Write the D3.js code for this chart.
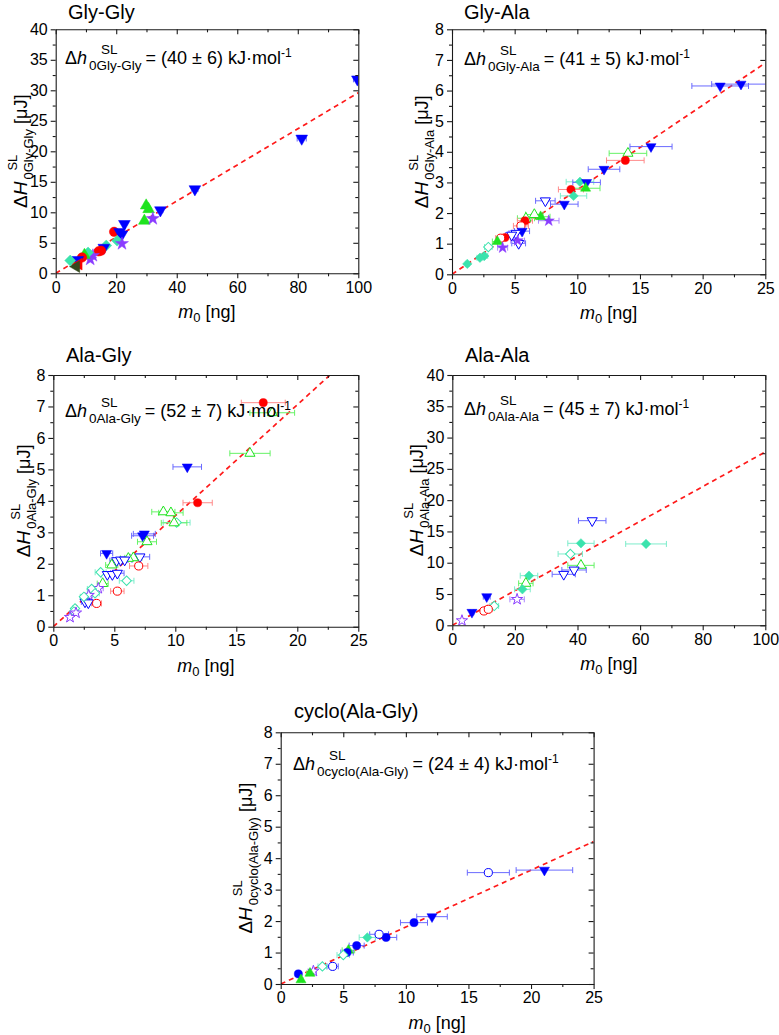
<!DOCTYPE html>
<html><head><meta charset="utf-8">
<script src="https://cdn.jsdelivr.net/npm/d3@7"></script>
<style>
body{margin:0;background:#fff}
svg{display:block}
text{font-family:"Liberation Sans",Arial,Helvetica,sans-serif;fill:#000}
</style>
</head><body>
<svg id="chart" width="779" height="1035"></svg>
<script>
// ---------------- DATA ----------------
const panelTitles = ["Gly-Gly", "Gly-Ala", "Ala-Gly", "Ala-Ala", "cyclo(Ala-Gly)"];
const panelSubs   = ["0Gly-Gly", "0Gly-Ala", "0Ala-Gly", "0Ala-Ala", "0cyclo(Ala-Gly)"];
const dhValues    = ["(40 \u00b1 6)", "(41 \u00b1 5)", "(52 \u00b1 7)", "(45 \u00b1 7)", "(24 \u00b1 4)"];
const fitSlopes   = [0.296, 0.276, 0.3527, 0.277, 0.181];
const xMaxes      = [100, 25, 25, 100, 25];
const yMaxes      = [40, 8, 8, 40, 8];
const xMajors     = [20, 5, 5, 20, 5];
const yMajors     = [5, 1, 1, 5, 1];

// Gly-Gly
const ggKind = ["blue-down-f","blue-down-f","blue-down-f","blue-down-f","green-up-f","green-up-f","green-up-f","purple-star-f","blue-down-f","red-circle-f","blue-down-f","blue-down-f","cyan-diamond-f","purple-star-f","cyan-diamond-f","blue-down-f","red-circle-f","red-circle-f","purple-star-f","purple-star-f","cyan-diamond-f","green-up-f","red-circle-f","blue-down-f","red-left-f","dark-left-f","cyan-diamond-f"];
const ggX = [99.7,81.3,46.0,34.6,29.9,30.7,29.3,32.1,22.7,19.3,21.1,21.9,20.3,21.9,16.7,15.9,15.0,14.2,12.3,11.4,10.7,9.5,8.7,7.3,7.6,6.8,4.8];
const ggY = [31.8,22.1,13.8,10.35,11.1,10.5,8.6,8.95,8.1,6.8,6.8,6.4,5.35,4.85,4.55,4.2,3.7,3.6,2.9,2.3,3.4,3.0,2.6,2.2,1.5,1.1,2.1];
const ggE = [1.3,1.5,1.0,0.8,0.6,0.6,0.6,0.7,0.5,0.4,0.5,0.5,0.4,0.5,0.4,0.4,0.3,0.3,0.3,0.3,0.3,0.2,0.2,0.2,0.2,0.2,0.2];

// Gly-Ala
const gaKind = ["blue-down-f","blue-down-f","blue-down-f","green-up-o","red-circle-f","blue-down-f","cyan-diamond-f","blue-down-f","red-circle-f","green-up-f","cyan-diamond-f","blue-down-f","blue-down-o","purple-star-f","green-up-f","green-up-o","green-up-o","red-circle-f","red-circle-o","blue-down-f","blue-down-o","blue-down-o","purple-star-f","blue-down-o","red-circle-f","red-circle-o","green-up-f","purple-star-f","cyan-diamond-o","cyan-diamond-f","cyan-diamond-f","cyan-diamond-f"];
const gaX = [23.06,21.4,15.88,14.04,13.83,12.13,10.21,10.74,9.49,10.66,9.7,8.96,7.45,7.72,7.07,6.57,5.9,5.82,5.5,5.59,5.1,5.32,5.24,4.76,4.23,3.88,3.62,4.04,2.9,2.58,2.23,1.22];
const gaY = [6.21,6.15,4.17,3.95,3.72,3.43,3.02,3.0,2.77,2.81,2.56,2.29,2.40,1.75,1.88,1.95,1.83,1.75,1.58,1.41,1.34,1.01,1.10,1.28,1.20,1.18,1.07,0.87,0.89,0.60,0.54,0.34];
const gaE = [2.34,2.26,1.68,1.5,1.5,1.26,1.1,1.1,1.0,1.15,1.05,1.1,0.78,0.82,0.75,0.7,0.68,0.6,0.6,0.6,0.55,0.55,0.55,0.5,0.45,0.4,0.4,0.4,0.3,0.27,0.24,0.15];

// Ala-Gly
const agKind = ["red-circle-f","green-up-o","green-up-o","blue-down-f","red-circle-f","green-up-o","green-up-o","cyan-diamond-o","green-up-o","blue-down-f","blue-down-f","green-up-o","blue-down-f","blue-down-o","red-circle-o","green-up-o","green-up-o","blue-down-o","blue-down-o","blue-down-o","green-up-o","cyan-diamond-o","blue-down-o","blue-down-o","blue-down-o","green-up-o","cyan-diamond-o","purple-star-o","red-circle-o","cyan-diamond-o","cyan-diamond-o","purple-star-o","blue-down-o","blue-down-o","cyan-diamond-o","red-circle-o","cyan-diamond-o","cyan-diamond-o","purple-star-o","purple-star-o"];
const agX = [17.21,17.95,16.12,10.98,11.83,9.02,9.64,10.11,9.9,7.32,7.46,7.68,4.37,7.1,7.0,6.56,6.15,5.19,5.52,5.85,4.79,3.88,4.43,4.84,5.25,4.05,6.01,3.69,5.25,3.14,3.42,2.9,2.6,2.87,2.51,3.55,1.78,1.69,1.86,1.37];
const agY = [7.12,6.80,5.51,5.08,3.94,3.65,3.62,3.31,3.30,2.89,2.95,2.70,2.33,2.22,1.93,2.19,2.17,2.10,2.12,2.12,1.96,1.73,1.66,1.66,1.70,1.37,1.46,1.22,1.13,1.20,1.06,1.0,0.79,0.76,0.95,0.74,0.58,0.48,0.44,0.30];
const agE = [1.8,1.83,1.65,1.17,1.2,0.95,1.0,1.1,1.05,0.9,0.9,0.78,0.5,0.8,0.75,0.7,0.65,0.55,0.6,0.6,0.5,0.45,0.5,0.5,0.55,0.45,0.6,0.4,0.55,0.35,0.35,0.3,0.3,0.3,0.3,0.4,0.2,0.2,0.2,0.15];

// Ala-Ala
const aaKind = ["blue-down-o","cyan-diamond-f","cyan-diamond-f","cyan-diamond-o","green-up-o","blue-down-o","blue-down-o","cyan-diamond-f","green-up-o","cyan-diamond-f","purple-star-o","cyan-diamond-o","blue-down-f","red-circle-o","red-circle-o","blue-down-f","purple-star-o"];
const aaX = [44.7,41.1,61.9,37.7,41.1,38.9,35.6,24.5,23.5,22.4,20.7,13.4,11.0,10.1,11.5,6.28,3.09];
const aaY = [16.72,13.1,13.0,11.4,9.58,8.84,8.15,7.93,6.7,5.75,4.15,3.09,4.58,2.29,2.56,2.08,0.75];
const aaE = [4.4,4.2,6.5,3.9,4.2,3.9,3.7,2.8,2.3,2.5,2.3,1.4,1.1,1.0,1.2,0.6,0.3];

// cyclo(Ala-Gly)
const caKind = ["blue-down-f","blue-circle-o","blue-down-f","blue-circle-f","blue-circle-f","blue-circle-o","cyan-diamond-f","blue-circle-f","green-up-f","blue-circle-f","cyan-diamond-o","blue-circle-o","cyan-diamond-o","purple-star-o","green-up-f","blue-circle-f","green-up-f"];
const caX = [21.07,16.59,12.09,10.65,8.42,7.86,6.92,6.07,5.41,5.3,5.0,4.15,3.33,2.61,2.34,1.41,1.62];
const caY = [3.62,3.54,2.14,1.95,1.48,1.58,1.48,1.22,1.07,1.0,0.92,0.56,0.56,0.41,0.34,0.32,0.13];
const caE = [2.26,1.68,1.22,1.08,0.85,0.75,0.65,0.6,0.5,0.5,0.5,0.45,0.35,0.25,0.25,0.15,0.15];

const panelKinds = [ggKind, gaKind, agKind, aaKind, caKind];
const panelXs = [ggX, gaX, agX, aaX, caX];
const panelYs = [ggY, gaY, agY, aaY, caY];
const panelEs = [ggE, gaE, agE, aaE, caE];

// ---------------- LAYOUT / STYLE ----------------
const layout = [
  {l:55.7, r:358.3, t:29.3, b:273.3, titleX:68, titleY:19, annX:65, annY:64, ylabX:27, msize:70},
  {l:452,  r:765.3, t:29.3, b:274.3, titleX:464, titleY:19, annX:464, annY:65, ylabX:428, msize:52},
  {l:53.3, r:358.3, t:375,  b:626.7, titleX:66, titleY:362, annX:65, annY:417, ylabX:30, msize:52},
  {l:452.3,r:765.3, t:375,  b:625.3, titleX:465, titleY:362, annX:464, annY:415, ylabX:423, msize:52},
  {l:280.7,r:593.6, t:732.3,b:984,  titleX:294, titleY:718, annX:293, annY:770, ylabX:252, msize:52}
];
const colors = {
  blue:   {m:"#0000ff", e:"#6a6aff"},
  red:    {m:"#ff0000", e:"#ff8a8a"},
  green:  {m:"#1fe31f", e:"#66f266"},
  cyan:   {m:"#3be3ad", e:"#7eeccb"},
  purple: {m:"#8a3cff", e:"#ad86ff"},
  dark:   {m:"#34481c", e:"#6f7d5a"}
};
const shapes = {
  down:   {t:d3.symbolTriangle, rot:180, k:0.85},
  up:     {t:d3.symbolTriangle, rot:0, k:0.85},
  left:   {t:d3.symbolTriangle, rot:-90, k:0.85},
  circle: {t:d3.symbolCircle, rot:0, k:1},
  diamond:{t:d3.symbolSquare, rot:45, k:0.85},
  star:   {t:d3.symbolStar, rot:0, k:0.75}
};

const svg = d3.select("#chart");

function measure(sel){ return sel.node().getComputedTextLength(); }

panelTitles.forEach((title, i) => {
  const L = layout[i];
  const g = svg.append("g");
  const x = d3.scaleLinear().domain([0, xMaxes[i]]).range([L.l, L.r]);
  const y = d3.scaleLinear().domain([0, yMaxes[i]]).range([L.b, L.t]);
  const xMaj = d3.range(0, xMaxes[i] + 1e-9, xMajors[i]);
  const yMaj = d3.range(0, yMaxes[i] + 1e-9, yMajors[i]);
  const xMin = d3.range(xMajors[i]/2, xMaxes[i], xMajors[i]);
  const yMin = d3.range(yMajors[i]/2, yMaxes[i], yMajors[i]);

  const clipId = "clip" + i;
  svg.append("defs").append("clipPath").attr("id", clipId)
    .append("rect").attr("x", L.l).attr("y", L.t).attr("width", L.r - L.l).attr("height", L.b - L.t);

  // fit line
  const xm = xMaxes[i];
  g.append("line").attr("clip-path", `url(#${clipId})`)
    .attr("x1", x(0)).attr("y1", y(0)).attr("x2", x(xm)).attr("y2", y(fitSlopes[i]*xm))
    .attr("stroke", "#ff1a1a").attr("stroke-width", 1.7).attr("stroke-dasharray", "5,4");

  // data
  const pts = panelXs[i].map((v, j) => ({x:v, y:panelYs[i][j], e:panelEs[i][j], k:panelKinds[i][j]}));
  const dg = g.append("g").attr("clip-path", `url(#${clipId})`);
  const eg = dg.append("g"), mg = dg.append("g");
  pts.forEach(p => {
    const [c, s, f] = p.k.split("-");
    const col = colors[c];
    const cx = x(p.x), cy = y(p.y), x1 = x(p.x - p.e), x2 = x(p.x + p.e);
    eg.append("line").attr("x1", x1).attr("x2", x2).attr("y1", cy).attr("y2", cy).attr("stroke", col.e).attr("stroke-width", 1);
    eg.append("line").attr("x1", x1).attr("x2", x1).attr("y1", cy-3).attr("y2", cy+3).attr("stroke", col.e).attr("stroke-width", 1);
    eg.append("line").attr("x1", x2).attr("x2", x2).attr("y1", cy-3).attr("y2", cy+3).attr("stroke", col.e).attr("stroke-width", 1);
    const sh = shapes[s];
    const sym = d3.symbol().type(sh.t).size(L.msize * sh.k);
    mg.append("path").attr("d", sym())
      .attr("transform", `translate(${cx},${cy}) rotate(${sh.rot})`)
      .attr("fill", f === "f" ? col.m : "#fff")
      .attr("stroke", col.m).attr("stroke-width", f === "f" ? 0.5 : 1);
  });

  // axes
  const axStyle = a => a.selectAll("path,line").attr("stroke", "#1a1a1a").attr("stroke-width", 1.1);
  const fmt = d3.format("d");
  const bx = g.append("g").attr("transform", `translate(0,${L.b})`)
    .call(d3.axisBottom(x).tickValues(xMaj).tickFormat(fmt).tickSizeInner(5).tickSizeOuter(0).tickPadding(3));
  g.append("g").attr("transform", `translate(0,${L.b})`).call(d3.axisBottom(x).tickValues(xMin).tickFormat("").tickSizeInner(3).tickSizeOuter(0)).call(axStyle).select(".domain").remove();
  const lx = g.append("g").attr("transform", `translate(${L.l},0)`)
    .call(d3.axisLeft(y).tickValues(yMaj).tickFormat(fmt).tickSizeInner(5).tickSizeOuter(0).tickPadding(3));
  g.append("g").attr("transform", `translate(${L.l},0)`).call(d3.axisLeft(y).tickValues(yMin).tickFormat("").tickSizeInner(3).tickSizeOuter(0)).call(axStyle).select(".domain").remove();
  g.append("g").attr("transform", `translate(0,${L.t})`).call(d3.axisTop(x).tickValues(xMaj).tickFormat("").tickSizeInner(-5).tickSizeOuter(0)).call(axStyle);
  g.append("g").attr("transform", `translate(0,${L.t})`).call(d3.axisTop(x).tickValues(xMin).tickFormat("").tickSizeInner(-3).tickSizeOuter(0)).call(axStyle).select(".domain").remove();
  g.append("g").attr("transform", `translate(${L.r},0)`).call(d3.axisRight(y).tickValues(yMaj).tickFormat("").tickSizeInner(-5).tickSizeOuter(0)).call(axStyle);
  g.append("g").attr("transform", `translate(${L.r},0)`).call(d3.axisRight(y).tickValues(yMin).tickFormat("").tickSizeInner(-3).tickSizeOuter(0)).call(axStyle).select(".domain").remove();
  [bx, lx].forEach(a => { axStyle(a); a.selectAll("text").attr("font-size", 16).attr("font-family", "Liberation Sans, Arial, sans-serif").attr("fill", "#000"); });

  // title
  g.append("text").attr("x", L.titleX).attr("y", L.titleY).attr("font-size", 20).text(title);

  // annotation
  const ag = g.append("g").attr("transform", `translate(${L.annX},${L.annY})`);
  const a1 = ag.append("text").attr("font-size", 18);
  a1.append("tspan").text("\u0394");
  a1.append("tspan").attr("font-style", "italic").text("h");
  const w1 = measure(a1);
  const subX = w1 + 2;
  const sb = ag.append("text").attr("font-size", 13.5).attr("x", subX).attr("y", 6).text(panelSubs[i]);
  const sp = ag.append("text").attr("font-size", 13.5).attr("x", subX + 12).attr("y", -10).text("SL");
  const wEnd = Math.max(subX + measure(sb), subX + 12 + measure(sp));
  const a2 = ag.append("text").attr("font-size", 18).attr("x", wEnd + 4);
  a2.append("tspan").text("= " + dhValues[i] + " kJ\u00b7mol");
  a2.append("tspan").attr("font-size", 12).attr("dy", -7).text("-1");

  // x label
  const xl = g.append("text").attr("font-size", 18).attr("text-anchor", "middle")
    .attr("x", (L.l + L.r)/2).attr("y", L.b + 45);
  xl.append("tspan").attr("font-style", "italic").text("m");
  xl.append("tspan").attr("font-size", 13).attr("dy", 4).text("0");
  xl.append("tspan").attr("dy", -4).text(" [ng]");

  // y label
  const yg = g.append("g").attr("transform", `translate(${L.ylabX},${(L.t + L.b)/2}) rotate(-90)`);
  const yi = yg.append("g");
  const y1 = yi.append("text").attr("font-size", 19);
  y1.append("tspan").text("\u0394");
  y1.append("tspan").attr("font-style", "italic").text("H");
  const yw1 = measure(y1) + 2;
  const ysb = yi.append("text").attr("font-size", 13).attr("x", yw1).attr("y", 6).text(panelSubs[i]);
  const ysp = yi.append("text").attr("font-size", 13).attr("x", yw1 + 9).attr("y", -10).text("SL");
  const yEnd = Math.max(yw1 + measure(ysb), yw1 + 9 + measure(ysp));
  const y3 = yi.append("text").attr("font-size", 18).attr("x", yEnd + 5).text("[\u03bcJ]");
  const total = yEnd + 5 + measure(y3);
  yi.attr("transform", `translate(${-total/2},0)`);
});
</script>
</body></html>
